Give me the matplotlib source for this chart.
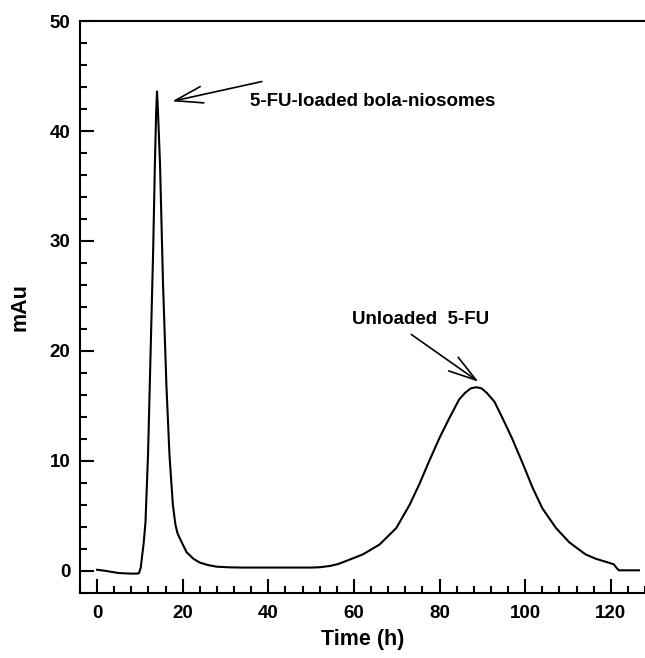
import numpy as np
import matplotlib.pyplot as plt
from matplotlib.ticker import MultipleLocator

plt.rcParams['font.family'] = ['Liberation Sans', 'DejaVu Sans']
plt.rcParams['font.weight'] = 'bold'

# chromatogram (time in h, signal in mAu)
time_h = [0, 2, 5, 8, 9.3, 9.8, 10.2, 10.5, 10.9, 11.3, 11.9, 12.5, 13.1,
          13.5, 13.8, 14.0, 14.2, 14.7, 15.4, 16.2, 16.9, 17.7, 18.3, 18.8,
          19.4, 20.9, 22.5, 24, 26, 27.9, 31, 34, 40, 45, 50, 52, 54.3, 56.3,
          58.2, 62.1, 66.0, 69.9, 73.0, 75.3, 77.6, 80.0, 82.3, 84.6, 86.0,
          87.3, 88.6, 89.8, 91.0, 92.8, 94.7, 97.0, 99.4, 101.7, 104.0,
          107.2, 110.3, 114.1, 116.5, 118.8, 120.7, 121.3, 121.9, 124, 126.6]
signal = [0.1, 0.0, -0.2, -0.25, -0.25, -0.2, 0.3, 1.3, 2.6, 4.4, 10.6, 19.9,
          29.2, 37.0, 41.8, 43.6, 42.0, 37.0, 26.1, 16.8, 10.6, 6.0, 4.2, 3.4,
          2.9, 1.7, 1.1, 0.75, 0.52, 0.38, 0.32, 0.3, 0.3, 0.3, 0.3, 0.33,
          0.44, 0.62, 0.9, 1.5, 2.4, 3.9, 6.0, 7.9, 10.0, 12.1, 13.9, 15.6,
          16.2, 16.6, 16.7, 16.6, 16.2, 15.4, 13.9, 12.0, 9.8, 7.6, 5.7, 3.9,
          2.6, 1.5, 1.1, 0.83, 0.6, 0.3, 0.05, 0.05, 0.05]

fig = plt.figure(figsize=(6.45, 6.58), dpi=100)
ax = fig.add_axes([0.124, 0.099, 0.876, 0.869])

ax.plot(time_h, signal, color='black', lw=1.5, solid_joinstyle='round')

ax.set_xlim(-4, 128)
ax.set_ylim(-2, 50)
ax.xaxis.set_major_locator(MultipleLocator(20))
ax.xaxis.set_minor_locator(MultipleLocator(4))
ax.yaxis.set_major_locator(MultipleLocator(10))
ax.yaxis.set_minor_locator(MultipleLocator(2))
ax.tick_params(which='both', direction='in', width=1.5, labelsize=13.5)
ax.tick_params(axis='x', which='both', pad=9)
ax.tick_params(axis='y', which='both', pad=7)
ax.tick_params(which='major', length=10)
ax.tick_params(which='minor', length=5)
for lab in ax.get_xticklabels() + ax.get_yticklabels():
    lab.set_fontweight('bold')

ax.spines['right'].set_visible(False)
for s in ['left', 'top', 'bottom']:
    ax.spines[s].set_linewidth(1.5)

ax.set_xlabel('Time (h)', fontsize=15.5, fontweight='bold', labelpad=5)
ax.set_ylabel('mAu', fontsize=15.5, fontweight='bold', labelpad=14)

arrow = dict(arrowstyle='->,head_length=1.0,head_width=0.3', lw=1.2,
             color='black', mutation_scale=20, shrinkA=0, shrinkB=0)
ax.annotate('', xy=(17.5, 42.7), xytext=(38.5, 44.5), arrowprops=arrow)
ax.text(35.8, 42.7, '5-FU-loaded bola-niosomes', fontsize=13.5,
        fontweight='bold', va='center', ha='left')
ax.annotate('', xy=(89.1, 17.2), xytext=(73.4, 21.5), arrowprops=arrow)
ax.text(59.6, 22.9, 'Unloaded  5-FU', fontsize=13.5, fontweight='bold',
        va='center', ha='left')

fig.savefig('out.png', dpi=100)
